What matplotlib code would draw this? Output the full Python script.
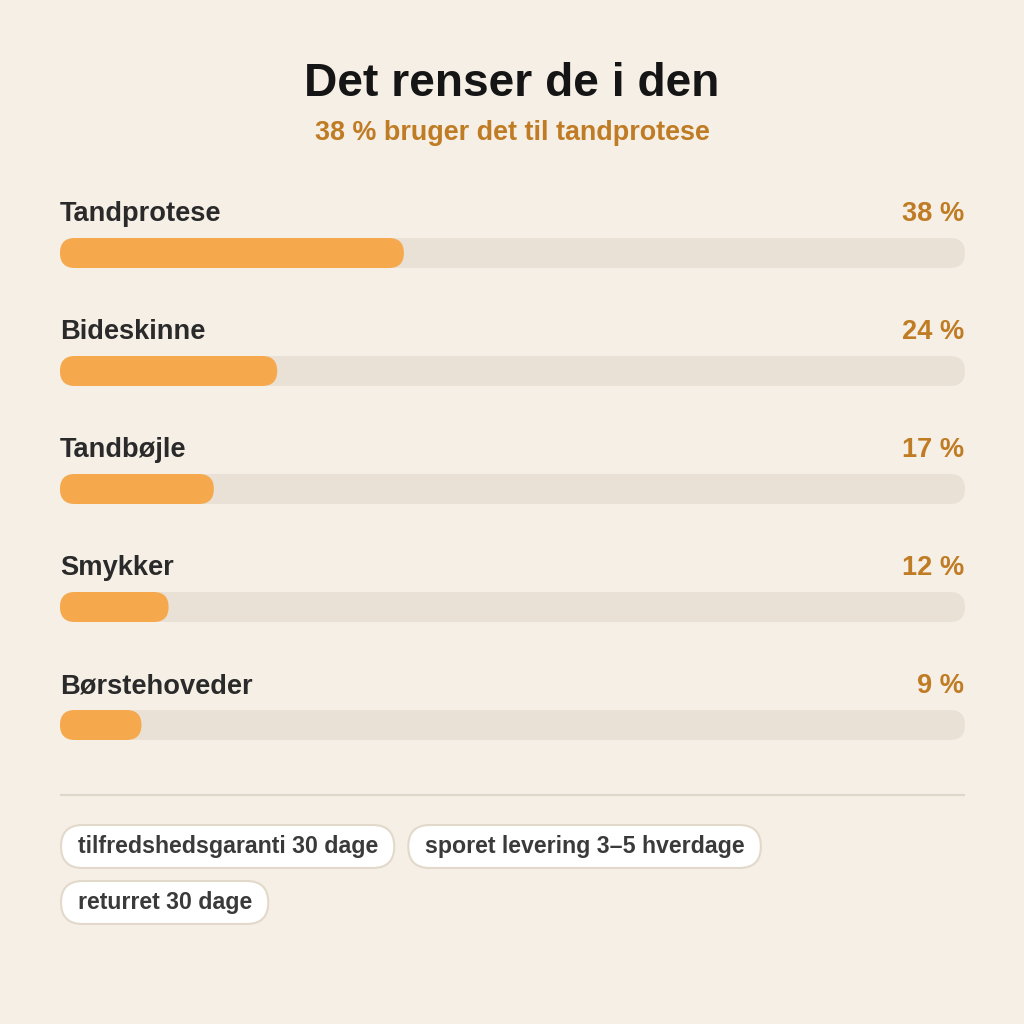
import matplotlib
matplotlib.use("Agg")
import matplotlib.pyplot as plt
from matplotlib.patches import FancyBboxPatch

# data
categories = ["Tandprotese", "Bideskinne", "Tandbøjle", "Smykker", "Børstehoveder"]
values = [38, 24, 17, 12, 9]
title = "Det renser de i den"
subtitle = "38 % bruger det til tandprotese"
chips = ["tilfredshedsgaranti 30 dage", "sporet levering 3–5 hverdage", "returret 30 dage"]

# colours
bg = "#f5efe6"
track_col = "#e9e1d5"
fill_col = "#f5a94c"
pct_col = "#c07c24"
title_col = "#151515"
label_col = "#2a2a2a"
chip_txt = "#3a3a3a"
chip_edge = "#e2d9ca"

plt.rcParams['font.family'] = ['Liberation Sans', 'DejaVu Sans']

fig = plt.figure(figsize=(10.24, 10.24), dpi=100, facecolor=bg)
ax = fig.add_axes([0, 0, 1, 1])
ax.set_xlim(0, 1024)
ax.set_ylim(1024, 0)
ax.axis('off')
ax.set_facecolor(bg)

ax.text(512, 96, title, ha='center', va='baseline', fontsize=33.2,
        fontweight='bold', color=title_col)
ax.text(512, 140, subtitle, ha='center', va='baseline', fontsize=19.4,
        fontweight='bold', color=pct_col)

x0, x1 = 60, 965
tw = x1 - x0
bh = 30
top0 = 238
step = 118

for i, (cat, v) in enumerate(zip(categories, values)):
    top = top0 + i * step
    ax.add_patch(FancyBboxPatch((x0, top), tw, bh,
                                boxstyle="round,pad=0,rounding_size=15",
                                fc=track_col, ec='none'))
    ax.add_patch(FancyBboxPatch((x0, top), tw * v / 100.0, bh,
                                boxstyle="round,pad=0,rounding_size=15",
                                fc=fill_col, ec='none'))
    ax.text(x0, top - 17, cat, ha='left', va='baseline', fontsize=19.6,
            fontweight='bold', color=label_col)
    ax.text(x1 - 1, top - 17, "%d %%" % v, ha='right', va='baseline',
            fontsize=19.6, fontweight='bold', color=pct_col)

# separator
ax.plot([x0, x1], [795, 795], color="#ded6c9", lw=1.5, solid_capstyle='butt')

# chips, flowing left to right
fig.canvas.draw()
rend = fig.canvas.get_renderer()
cx, cy = 61, 825
ch = 43
pad = 16.5
gap = 14
for c in chips:
    t = ax.text(0, 0, c, fontsize=16.7, fontweight='bold', color=chip_txt,
                ha='left', va='baseline')
    w = t.get_window_extent(renderer=rend).width
    cw = w + 2 * pad
    if cx + cw > x1:
        cx = 61
        cy += 56
    ax.add_patch(FancyBboxPatch((cx, cy), cw, ch,
                                boxstyle="round,pad=0,rounding_size=21.5",
                                fc='white', ec=chip_edge, lw=1.5))
    t.set_position((cx + pad, cy + ch / 2 + 6.5))
    t.set_zorder(3)
    cx += cw + gap

fig.savefig("out.png", dpi=100, facecolor=bg)
